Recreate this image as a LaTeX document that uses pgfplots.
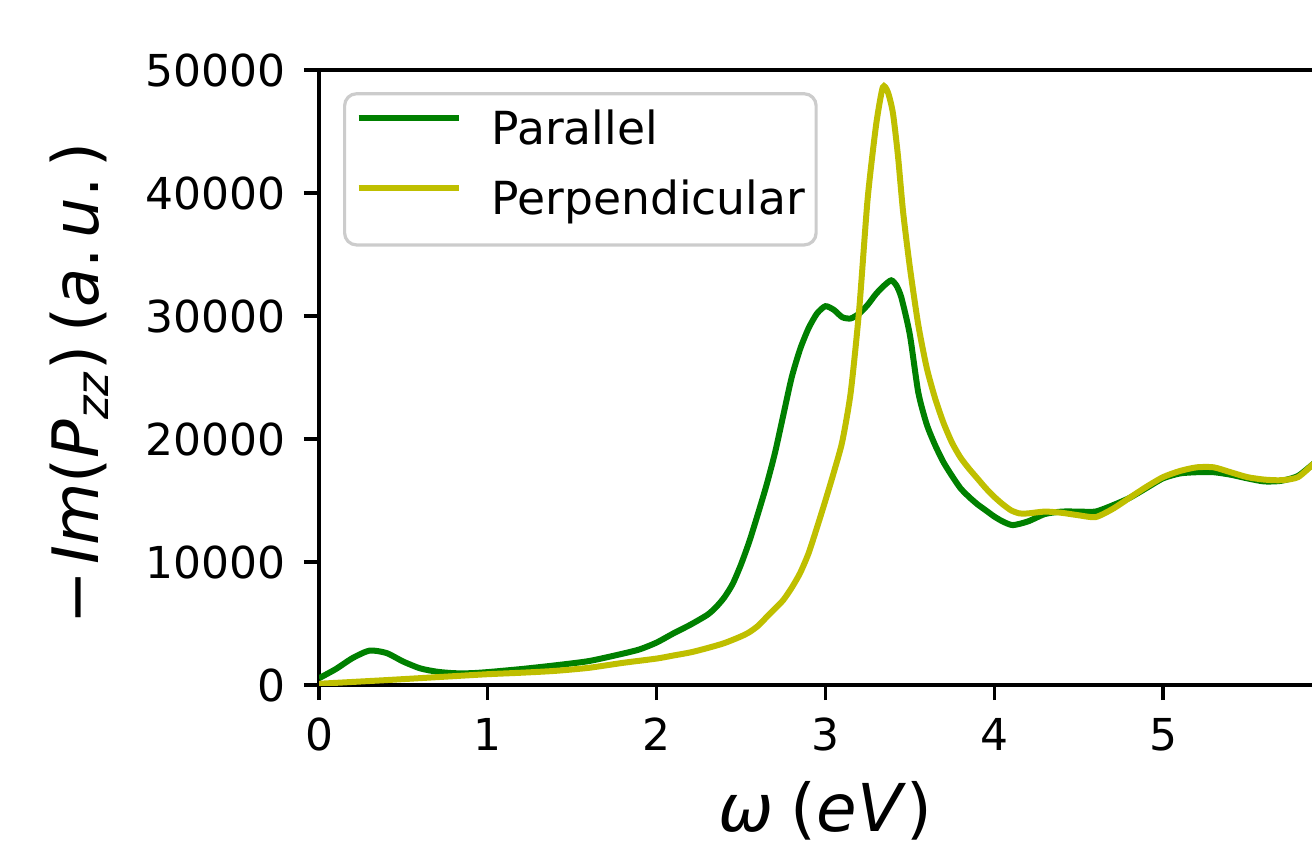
\documentclass[border=0pt]{standalone}
\usepackage{pgfplots}
\pgfplotsset{compat=1.18}
\usepackage{fontspec}
\setmainfont{DejaVu Sans}
\definecolor{mplg}{rgb}{0,0.5,0}
\definecolor{mply}{rgb}{0.75,0.75,0}
\begin{document}
\begin{tikzpicture}
\begin{axis}[
  scale only axis,
  width=253.2pt, height=153.75pt,
  xmin=0, xmax=6, ymin=0, ymax=50000,
  xtick={0,1,2,3,4,5},
  ytick={0,10000,20000,30000,40000,50000},
  scaled y ticks=false,
  /pgf/number format/1000 sep={},
  /pgf/number format/assume math mode=true,
  tick align=outside,
  xtick pos=bottom, ytick pos=left,
  major tick length=3.75pt,
  axis line style={black, line width=0.8pt},
  every tick/.style={black, line width=0.8pt},
  ticklabel style={font=\fontsize{11}{13}\selectfont},
  xticklabel style={yshift=-1pt},
  yticklabel style={xshift=-1pt},
  xlabel={\textit{ω}\hspace{0.25em}(\textit{eV})},
  ylabel={−\hspace{0.1em}\textit{Im}(\textit{P}\textsubscript{\textit{zz}})\hspace{0.2em}(\textit{a}.\hspace{0.15em}\textit{u}.\hspace{0.15em})},
  label style={font=\fontsize{16.5}{19}\selectfont},
  ylabel style={font=\fontsize{16}{19}\selectfont},
  xlabel style={at={(rel axis cs:0.5,-0.205)}, anchor=center},
  ylabel style={at={(rel axis cs:-0.237,0.49)}, anchor=center},
  legend cell align=left,
  legend style={at={(rel axis cs:0.0237,0.964)}, anchor=north west,
    font=\fontsize{11.4}{13}\selectfont,
    draw=black!20, line width=0.8pt, rounded corners=3pt,
    fill=white, fill opacity=0.8, text opacity=1,
    inner xsep=2.75pt, inner ysep=4.4pt, row sep=5.8pt, column sep=7.5pt,
    nodes={inner xsep=0pt, inner ysep=0pt, text height=8.3pt, text depth=3.3pt}},
  legend image code/.code={\draw[#1, line width=1.5pt] (0pt,4.1pt) -- (25pt,4.1pt);},
]
\addplot[mplg, line width=1.5pt, smooth, tension=0.4] coordinates {
(0,550) (0.1,1300) (0.2,2200) (0.3,2800) (0.4,2600) (0.5,1900) (0.6,1350)
(0.7,1080) (0.8,960) (0.9,960) (1.0,1050) (1.2,1300) (1.4,1600) (1.6,1950)
(1.8,2550) (1.9,2900) (2.0,3450) (2.1,4200) (2.2,4900) (2.3,5700) (2.35,6300)
(2.4,7100) (2.45,8200) (2.5,9800) (2.55,11700) (2.6,13900) (2.65,16200) (2.7,18800)
(2.75,21900) (2.8,25000) (2.85,27300) (2.9,29000) (2.95,30200) (3.0,30800)
(3.05,30500) (3.1,29900) (3.15,29800) (3.2,30200) (3.25,30900) (3.3,31800)
(3.35,32500) (3.39,32900) (3.42,32500) (3.45,31500) (3.5,28500) (3.55,23800)
(3.6,21200) (3.65,19500) (3.7,18100) (3.75,17000) (3.8,16000) (3.85,15300)
(3.9,14700) (3.95,14200) (4.0,13700) (4.05,13300) (4.11,13000) (4.2,13300)
(4.3,13900) (4.4,14100) (4.5,14100) (4.6,14100) (4.7,14600) (4.8,15200)
(4.9,16000) (5.0,16800) (5.1,17200) (5.2,17300) (5.3,17300) (5.4,17100)
(5.5,16800) (5.6,16550) (5.7,16600) (5.8,17000) (5.9,18100)
};
\addlegendentry{Parallel}
\addplot[mply, line width=1.5pt, smooth, tension=0.4] coordinates {
(0,100) (0.2,250) (0.4,400) (0.6,560) (0.8,720) (1.0,880) (1.2,1000)
(1.4,1150) (1.6,1400) (1.8,1800) (2.0,2150) (2.1,2400) (2.2,2650) (2.3,3000)
(2.4,3400) (2.5,3950) (2.55,4300) (2.6,4800) (2.65,5500) (2.7,6200) (2.75,6900)
(2.8,7900) (2.85,9100) (2.9,10700) (2.95,12800) (3.0,15000) (3.05,17300) (3.1,19800)
(3.15,23800) (3.2,30500) (3.25,39500) (3.3,45500) (3.34,48600) (3.37,48200)
(3.4,46500) (3.43,43000) (3.46,38500) (3.5,34000) (3.55,29300) (3.6,25800)
(3.65,23300) (3.7,21300) (3.75,19700) (3.8,18500) (3.85,17600) (3.9,16800)
(3.95,16000) (4.0,15300) (4.05,14700) (4.1,14200) (4.15,13950) (4.2,13950)
(4.3,14100) (4.4,14000) (4.5,13800) (4.6,13650) (4.7,14300) (4.8,15200)
(4.9,16100) (5.0,16900) (5.1,17400) (5.2,17700) (5.3,17700) (5.4,17300)
(5.5,16900) (5.6,16700) (5.7,16650) (5.8,16900) (5.9,18100)
};
\addlegendentry{Perpendicular\hspace{3pt}}
\coordinate (bl) at (rel axis cs:0,0);
\coordinate (tr) at (axis cs:5.8827,50000);
\end{axis}
\pgfresetboundingbox
\path[use as bounding box] ([xshift=-79.75pt,yshift=-40.25pt]bl) rectangle ([yshift=17.5pt]tr);
\end{tikzpicture}
\end{document}
